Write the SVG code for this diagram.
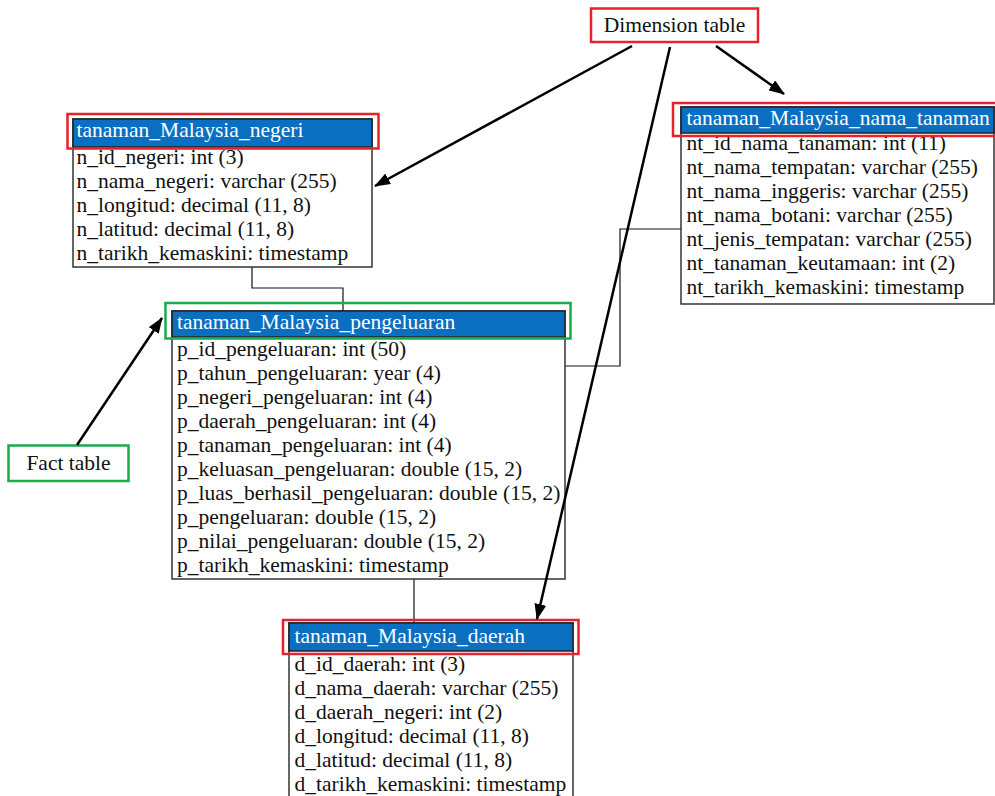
<svg xmlns="http://www.w3.org/2000/svg" width="995" height="796" viewBox="0 0 995 796">
<defs>
<marker id="ah" markerWidth="16" markerHeight="12" refX="15" refY="6" orient="auto" markerUnits="userSpaceOnUse" viewBox="0 0 16 12">
<path d="M0,0 L16,6 L0,12 z" fill="#000"/>
</marker>
<style>
text{font-family:"Liberation Serif","Times New Roman",serif;font-size:21.5px;fill:#111}
.hd{fill:#0a6fc1;stroke:#222;stroke-width:1.5}
.hdt{fill:#fff}
.box{fill:#fff;stroke:#333;stroke-width:1.5}
.red{fill:none;stroke:#e8222c;stroke-width:2.5}
.grn{fill:none;stroke:#1aab4b;stroke-width:2.5}
.ln{fill:none;stroke:#111;stroke-width:1.2}
.ar{fill:none;stroke:#000;stroke-width:2.5;marker-end:url(#ah)}
</style>
</defs>
<rect width="995" height="796" fill="#fff"/>
<g id="connectors">
<polyline class="ln" points="252,267 252,288 343,288 343,311"/>
<polyline class="ln" points="565,366 620,366 620,229 681,229"/>
<polyline class="ln" points="414,579 414,623"/>
</g>
<g id="negeri">
<rect class="box" x="73" y="119" width="299" height="148"/>
<rect class="hd" x="73" y="119" width="299" height="28"/>
<text class="hdt" x="76.5" y="137">tanaman_Malaysia_negeri</text>
<text x="76.5" y="164">n_id_negeri: int (3)</text>
<text x="76.5" y="188">n_nama_negeri: varchar (255)</text>
<text x="76.5" y="212">n_longitud: decimal (11, 8)</text>
<text x="76.5" y="236">n_latitud: decimal (11, 8)</text>
<text x="76.5" y="260">n_tarikh_kemaskini: timestamp</text>
<rect class="red" x="67.5" y="114" width="311" height="34.5"/>
</g>
<g id="pengeluaran">
<rect class="box" x="172" y="311" width="393" height="268"/>
<rect class="hd" x="172" y="311" width="393" height="26"/>
<text class="hdt" x="177" y="329">tanaman_Malaysia_pengeluaran</text>
<text x="177" y="356">p_id_pengeluaran: int (50)</text>
<text x="177" y="380">p_tahun_pengeluaran: year (4)</text>
<text x="177" y="404">p_negeri_pengeluaran: int (4)</text>
<text x="177" y="428">p_daerah_pengeluaran: int (4)</text>
<text x="177" y="452">p_tanaman_pengeluaran: int (4)</text>
<text x="177" y="476">p_keluasan_pengeluaran: double (15, 2)</text>
<text x="177" y="500">p_luas_berhasil_pengeluaran: double (15, 2)</text>
<text x="177" y="524">p_pengeluaran: double (15, 2)</text>
<text x="177" y="548">p_nilai_pengeluaran: double (15, 2)</text>
<text x="177" y="572">p_tarikh_kemaskini: timestamp</text>
<rect class="grn" x="165.5" y="303" width="405" height="35.5"/>
</g>
<g id="nama_tanaman">
<rect class="box" x="681" y="107" width="313" height="197"/>
<rect class="hd" x="681" y="107" width="313" height="26"/>
<text class="hdt" x="686.5" y="125">tanaman_Malaysia_nama_tanaman</text>
<text x="686.5" y="150">nt_id_nama_tanaman: int (11)</text>
<text x="686.5" y="174">nt_nama_tempatan: varchar (255)</text>
<text x="686.5" y="198">nt_nama_inggeris: varchar (255)</text>
<text x="686.5" y="222">nt_nama_botani: varchar (255)</text>
<text x="686.5" y="246">nt_jenis_tempatan: varchar (255)</text>
<text x="686.5" y="270">nt_tanaman_keutamaan: int (2)</text>
<text x="686.5" y="294">nt_tarikh_kemaskini: timestamp</text>
<rect class="red" x="673" y="103" width="325" height="33"/>
</g>
<g id="daerah">
<rect class="box" x="289" y="623" width="284" height="180"/>
<rect class="hd" x="289" y="623" width="284" height="28"/>
<text class="hdt" x="294.5" y="643">tanaman_Malaysia_daerah</text>
<text x="294.5" y="671">d_id_daerah: int (3)</text>
<text x="294.5" y="695">d_nama_daerah: varchar (255)</text>
<text x="294.5" y="719">d_daerah_negeri: int (2)</text>
<text x="294.5" y="743">d_longitud: decimal (11, 8)</text>
<text x="294.5" y="767">d_latitud: decimal (11, 8)</text>
<text x="294.5" y="791">d_tarikh_kemaskini: timestamp</text>
<rect class="red" x="283" y="620" width="295.5" height="34"/>
</g>
<g id="dimension_label">
<rect class="red" x="591" y="8.5" width="167" height="33.5"/>
<text x="674.5" y="32" text-anchor="middle">Dimension table</text>
</g>
<g id="fact_label">
<rect class="grn" x="8.5" y="445.5" width="120" height="35.5"/>
<text x="68.5" y="470" text-anchor="middle">Fact table</text>
</g>
<g id="arrows">
<line class="ar" x1="632" y1="46" x2="375" y2="186"/>
<line class="ar" x1="670" y1="47" x2="537" y2="619"/>
<line class="ar" x1="716" y1="46" x2="784" y2="94"/>
<line class="ar" x1="77" y1="445" x2="162" y2="318"/>
</g>
</svg>
